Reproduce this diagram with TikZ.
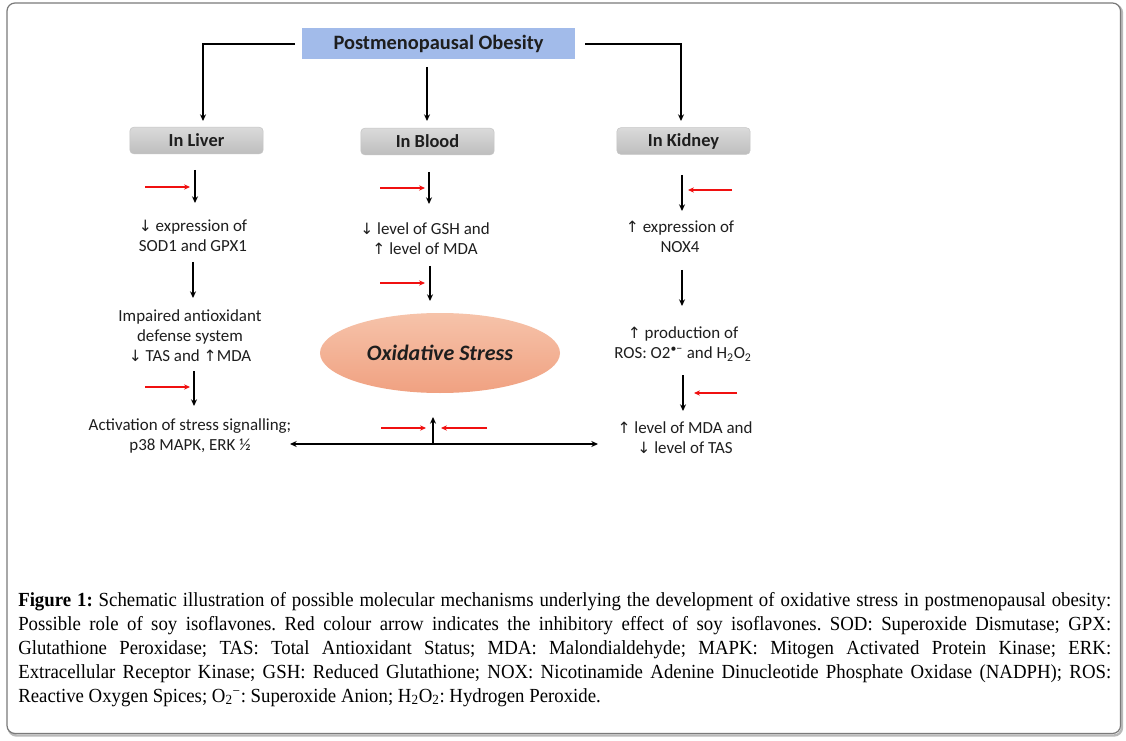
\documentclass[tikz,border=0pt]{standalone}
\usepackage{fontspec}
\setmainfont{Carlito}
\newfontfamily\capfont{Liberation Serif}
\newfontfamily\symfont{DejaVu Sans}
\usetikzlibrary{arrows.meta,shapes.geometric}
\newcommand\dnar{{\symfont\scalebox{0.92}{↓}}}
\newcommand\upar{{\symfont\scalebox{0.92}{↑}}}
\definecolor{titleblue}{HTML}{A2BBEA}
\definecolor{boxgrayT}{HTML}{DADADA}
\definecolor{boxgrayB}{HTML}{BEBEBE}
\definecolor{ovalT}{HTML}{F6C3AA}
\definecolor{ovalB}{HTML}{F0A181}
\definecolor{inhib}{HTML}{F01010}
\definecolor{framegray}{HTML}{7A7A7A}
\definecolor{txt}{HTML}{1E1E1E}
\tikzset{
  titlebox/.style={fill=titleblue, minimum width=205pt, minimum height=23.5pt, inner sep=0pt,
    font=\fontsize{15.3}{17}\selectfont\bfseries, text=txt},
  sitebox/.style={rounded corners=3pt, top color=boxgrayT, bottom color=boxgrayB, draw=boxgrayB!90,
    minimum width=100pt, minimum height=20pt, inner sep=0pt, font=\fontsize{13.8}{15}\selectfont\bfseries, text=txt},
  desc/.style={align=center, inner sep=0pt, font=\fontsize{12.7}{15}\selectfont, text=txt},
  blk/.style={line width=1.3pt, black, -{Stealth[length=5pt,width=4.5pt]}},
  blkplain/.style={line width=1.3pt, black},
  red/.style={line width=1.3pt, inhib, -{Stealth[length=4.5pt,width=4pt]}},
  oval/.style={ellipse, top color=ovalT, bottom color=ovalB, minimum width=180pt, minimum height=60pt,
    inner sep=0pt, font=\fontsize{16.5}{19}\selectfont\bfseries\itshape, text=txt},
  caption/.style={inner sep=0pt, anchor=base west, font=\capfont\fontsize{15}{18}\selectfont}
}
\begin{document}
\begin{tikzpicture}[x=0.75pt,y=-0.75pt]
\useasboundingbox (0,0) rectangle (1126,741);
% frame
\draw[gray!55, line width=1.8pt, rounded corners=6pt] (8.5,5) rectangle (1122,735.5);
\draw[framegray, line width=0.9pt, rounded corners=6pt, fill=white] (7,3) rectangle (1120.5,733.5);

% title and site boxes
\node[titlebox] (pmo) at (438.5,43.5) {Postmenopausal Obesity};
\node[sitebox] (liver) at (196.5,140.5) {In Liver};
\node[sitebox] (blood) at (427.5,141.5) {In Blood};
\node[sitebox] (kidney) at (683.5,141) {In Kidney};

% connectors from title
\coordinate (tL) at (295,44);
\coordinate (cL) at (203,44);
\coordinate (eL) at (203,121);
\coordinate (tR) at (585,44);
\coordinate (cR) at (681,44);
\coordinate (eR) at (681,121);
\coordinate (tM) at (427,67);
\coordinate (eM) at (427,121);
\draw[blk] (tL) -- (cL) -- (eL);
\draw[blk] (tR) -- (cR) -- (eR);
\draw[blk] (tM) -- (eM);

% text nodes
\node[desc] (l1) at (193,236) {\dnar\ expression of\\SOD1 and GPX1};
\node[desc] (l2) at (190,336) {Impaired antioxidant\\defense system\\\dnar\ TAS and \upar MDA};
\node[desc] (l3) at (190,436) {Activation of stress signalling;\\p38 MAPK, ERK ½};
\node[desc] (b1) at (425,239) {\dnar\ level of GSH and\\\upar\ level of MDA};
\node[oval] (os) at (440,353) {Oxidative Stress};
\node[desc] (k1) at (680,237) {\upar\ expression of\\NOX4};
\node[desc] (k2) at (683,344) {\upar\ production of\\ROS: O2\textsuperscript{\textbullet−} and H\textsubscript{2}O\textsubscript{2}};
\node[desc] (k3) at (685,438) {\upar\ level of MDA and\\\dnar\ level of TAS};

% liver column
\coordinate (la1) at (195,170); \coordinate (la2) at (195,203);
\coordinate (la3) at (193,262); \coordinate (la4) at (193,298);
\coordinate (la5) at (194,371); \coordinate (la6) at (194,406);
\draw[blk] (la1) -- (la2);
\draw[blk] (la3) -- (la4);
\draw[blk] (la5) -- (la6);
\coordinate (lr1) at (145,187); \coordinate (lr2) at (190,187);
\coordinate (lr3) at (145,387); \coordinate (lr4) at (190,387);
\draw[red] (lr1) -- (lr2);
\draw[red] (lr3) -- (lr4);

% blood column
\coordinate (ba1) at (429,172); \coordinate (ba2) at (429,204);
\coordinate (ba3) at (430,266); \coordinate (ba4) at (430,301);
\draw[blk] (ba1) -- (ba2);
\draw[blk] (ba3) -- (ba4);
\coordinate (br1) at (380,188); \coordinate (br2) at (425,188);
\coordinate (br3) at (380,283); \coordinate (br4) at (425,283);
\draw[red] (br1) -- (br2);
\draw[red] (br3) -- (br4);

% kidney column
\coordinate (ka1) at (682,175); \coordinate (ka2) at (682,211);
\coordinate (ka3) at (682,270); \coordinate (ka4) at (682,306);
\coordinate (ka5) at (683,375); \coordinate (ka6) at (683,411);
\draw[blk] (ka1) -- (ka2);
\draw[blk] (ka3) -- (ka4);
\draw[blk] (ka5) -- (ka6);
\coordinate (kr1) at (732,190); \coordinate (kr2) at (688,190);
\coordinate (kr3) at (737,393); \coordinate (kr4) at (694,393);
\draw[red] (kr1) -- (kr2);
\draw[red] (kr3) -- (kr4);

% bottom double arrow
\coordinate (hL) at (290,444); \coordinate (hR) at (598,444);
\coordinate (vB) at (433,444); \coordinate (vT) at (433,417);
\draw[blkplain, {Stealth[length=5pt,width=4.5pt]}-{Stealth[length=5pt,width=4.5pt]}] (hL) -- (hR);
\draw[blk] (vB) -- (vT);
\coordinate (mr1) at (381,428); \coordinate (mr2) at (426,428);
\coordinate (mr3) at (487,428); \coordinate (mr4) at (441,428);
\draw[red] (mr1) -- (mr2);
\draw[red] (mr3) -- (mr4);

% caption
\node[caption] (cap) at (18,606) {\scalebox{0.94}[1]{\parbox[t]{872pt}{\frenchspacing\tolerance=10000\hyphenpenalty=10000\parindent=0pt
\textbf{Figure 1:} Schematic illustration of possible molecular mechanisms underlying the development of oxidative stress in postmenopausal obesity:\linebreak
Possible role of soy isoflavones. Red colour arrow indicates the inhibitory effect of soy isoflavones. SOD: Superoxide Dismutase; GPX:\linebreak
Glutathione Peroxidase; TAS: Total Antioxidant Status; MDA: Malondialdehyde; MAPK: Mitogen Activated Protein Kinase; ERK:\linebreak
Extracellular Receptor Kinase; GSH: Reduced Glutathione; NOX: Nicotinamide Adenine Dinucleotide Phosphate Oxidase (NADPH); ROS:\linebreak
Reactive Oxygen Spices; O\textsubscript{2}\textsuperscript{−}: Superoxide Anion; H\textsubscript{2}O\textsubscript{2}: Hydrogen Peroxide.}}};
\end{tikzpicture}
\end{document}
